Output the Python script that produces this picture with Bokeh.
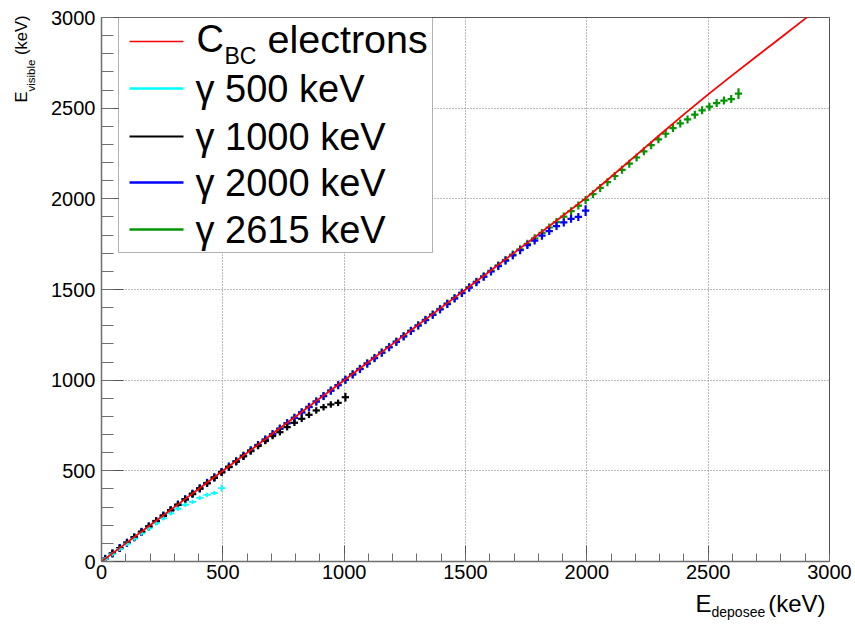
import numpy as np
from bokeh.plotting import figure
from bokeh.models import Range1d, SingleIntervalTicker, Label, BoxAnnotation, ColumnDataSource, Title
from bokeh.embed import file_html
from bokeh.resources import INLINE

# ---------------- data ----------------
cbc_x = [0, 100, 200, 300, 400, 500, 600, 700, 800, 900, 1000, 1100, 1200, 1300, 1400, 1500,
         1600, 1700, 1800, 1900, 2000, 2100, 2200, 2300, 2400, 2500, 2600, 2700, 2800, 2900, 3000]
cbc_y = [0, 100, 200, 300, 400, 500, 600, 700, 800, 900, 1000, 1100, 1200, 1300, 1400, 1500,
         1601, 1702, 1803, 1905, 2008, 2122, 2237, 2352, 2466, 2576, 2682, 2786, 2890, 2994, 3098]

BIN_WIDTH = 30  # keV, histogram binning of the gamma curves

g500_y = [13, 41, 70, 98, 126, 155, 183, 211, 238, 265, 291, 313, 329, 351, 367, 377, 405]

g1000_y = [14, 44, 73, 103, 133, 163, 193, 222, 252, 282,
           312, 342, 372, 402, 431, 461, 491, 520, 550, 579,
           608, 637, 665, 692, 713, 741, 765, 787, 809, 833,
           851, 866, 875, 906]

g2000_y = [14, 44, 74, 104, 133, 163, 193, 223, 253, 283,
           313, 343, 373, 403, 433, 463, 493, 522, 552, 582,
           612, 642, 672, 702, 732, 762, 792, 822, 852, 882,
           912, 942, 972, 1002, 1031, 1061, 1091, 1121, 1151, 1181,
           1211, 1241, 1271, 1301, 1331, 1360, 1390, 1420, 1450, 1480,
           1510, 1540, 1570, 1599, 1629, 1659, 1688, 1717, 1745, 1770,
           1797, 1822, 1850, 1870, 1890, 1900, 1935]

g2615_y = [15, 45, 74, 104, 134, 164, 194, 224, 254, 284,
           314, 344, 374, 404, 434, 464, 494, 524, 554, 584,
           613, 643, 673, 703, 733, 763, 793, 823, 853, 883,
           913, 943, 973, 1003, 1033, 1063, 1093, 1123, 1153, 1183,
           1213, 1243, 1273, 1303, 1333, 1363, 1393, 1423, 1453, 1483,
           1513, 1543, 1573, 1603, 1633, 1663, 1693, 1722, 1752, 1782,
           1812, 1842, 1872, 1902, 1932, 1963, 1994, 2026, 2060, 2092,
           2126, 2160, 2194, 2228, 2262, 2296, 2328, 2359, 2390, 2416,
           2438, 2464, 2488, 2508, 2528, 2542, 2550, 2580]

# vertical errors (keV): typical and last (photopeak) bin
g500_err, g500_last = 12, 20
g1000_err, g1000_last = 18, 24
g2000_err, g2000_last = 22, 30
g2615_err, g2615_last = 22, 30

legend_labels = ["electrons", "\u03b3 500 keV", "\u03b3 1000 keV", "\u03b3 2000 keV", "\u03b3 2615 keV"]

RED = "#ff0000"
CYAN = "#00ffff"
BLACK = "#000000"
BLUE = "#0000ff"
GREEN = "#009600"
FONT = "Liberation Sans"

# ---------------- figure ----------------
W, H = 855, 624
L, R, T, B = 101, 26, 17, 63
p = figure(width=W, height=H, x_range=Range1d(0, 3000), y_range=Range1d(0, 3000),
           output_backend="svg", toolbar_location=None,
           min_border_left=L, min_border_right=R, min_border_top=T, min_border_bottom=B)
p.background_fill_color = "white"
p.border_fill_color = "white"
p.outline_line_color = "#555555"
p.outline_line_width = 1

FX0, FY0 = L, T           # canvas position of frame top-left
FW, FH = W - L - R, H - T - B


def dx(px):
    return (px - FX0) / FW * 3000.0


def dy(py):
    return (FY0 + FH - py) / FH * 3000.0


for ax in (p.xaxis[0], p.yaxis[0]):
    ax.ticker = SingleIntervalTicker(interval=500, num_minor_ticks=5)
    ax.axis_line_color = "#6e6e6e"
    ax.axis_line_width = 1.5
    ax.major_tick_line_color = "#555555"
    ax.minor_tick_line_color = "#6e6e6e"
    ax.major_tick_out = 0
    ax.minor_tick_out = 0
    ax.major_label_text_font = FONT
    ax.major_label_text_font_size = "20px"
    ax.major_label_text_color = "black"
    ax.axis_label = None

p.xaxis[0].major_tick_in = 16
p.xaxis[0].minor_tick_in = 8
p.xaxis[0].major_label_standoff = 3
p.yaxis[0].major_tick_in = 22
p.yaxis[0].minor_tick_in = 12
p.yaxis[0].major_label_standoff = 6

for g in (p.xgrid[0], p.ygrid[0]):
    g.grid_line_color = "#777777"
    g.grid_line_dash = "1 2"
    g.grid_line_width = 1


def add_series(yvals, color, err, last_err, lw):
    y = np.array(yvals, dtype=float)
    x = BIN_WIDTH / 2.0 + BIN_WIDTH * np.arange(len(y))
    e = np.full(len(y), float(err))
    e[-1] = last_err
    src = ColumnDataSource(dict(x=x, y=y, xl=x - BIN_WIDTH / 2.0, xr=x + BIN_WIDTH / 2.0,
                                yl=y - e, yh=y + e))
    p.segment(x0="xl", y0="y", x1="xr", y1="y", source=src, line_color=color, line_width=lw)
    p.segment(x0="x", y0="yl", x1="x", y1="yh", source=src, line_color=color, line_width=lw)


add_series(g2615_y, GREEN, g2615_err, g2615_last, 2.2)
add_series(g2000_y, BLUE, g2000_err, g2000_last, 2.2)
add_series(g1000_y, BLACK, g1000_err, g1000_last, 2.2)
add_series(g500_y, CYAN, g500_err, g500_last, 1.8)

p.line(cbc_x, cbc_y, line_color=RED, line_width=1.8)

# ---------------- legend (drawn by hand for the subscript) ----------------
p.add_layout(BoxAnnotation(left=dx(118), right=dx(432), top=dy(17), bottom=dy(252),
                           fill_color="white", fill_alpha=1.0, line_color="black", line_width=1,
                           level="annotation"))


def lab(text, px, py_mid, size):
    p.add_layout(Label(x=dx(px), y=dy(py_mid), text=text, text_font=FONT,
                       text_font_size=f"{size}px", text_baseline="middle",
                       text_align="left", text_color="black", level="overlay"))


row_y = [41, 88, 136, 182, 229]
colors = [RED, CYAN, BLACK, BLUE, GREEN]
widths = [1.5, 2.7, 2.2, 2.7, 2.7]
for ry, c, w in zip(row_y, colors, widths):
    p.segment(x0=dx(129), y0=dy(ry), x1=dx(183), y1=dy(ry), line_color=c, line_width=w,
              level="overlay")

lab("C", 196, 38.8, 38)
lab("BC", 224, 55.3, 23)
lab(legend_labels[0], 267, 38.3, 39.5)
for ry, t in zip(row_y[1:], legend_labels[1:]):
    lab(t, 195, ry + 0.5, 38)

# ---------------- axis titles (side-panel titles, pieces for the subscripts) ----------------
def fh(size):
    # vertical extent of a text box for the font (ascent + descent)
    return 1.117 * size


def side_title(text, side, size, align="left", offset=0.0, thickness=0.0, valign="middle"):
    standoff = thickness - 2.0 - fh(size)
    t = Title(text=text, align=align, vertical_align=valign, offset=offset, standoff=standoff,
              text_font=FONT, text_font_size=f"{size}px", text_font_style="normal",
              text_color="black")
    p.add_layout(t, side)


# x title: E_deposee (keV), right aligned at the end of the axis
side_title(" ", "below", 10, thickness=22.5)                     # spacer
side_title("E", "below", 24, align="left", offset=594, thickness=0.3)
side_title("(keV)", "below", 24, align="right", offset=4, thickness=0.3)
side_title("deposee", "below", 14, align="left", offset=610, thickness=13.6, valign="bottom")

# y title: E_visible (keV), right aligned at the top of the axis
side_title(" ", "left", 10, thickness=7.3)                        # spacer
side_title("visible", "left", 11.5, align="left", offset=470, thickness=21.4)
side_title("E", "left", 16.5, align="left", offset=459, thickness=0.3)
side_title("(keV)", "left", 16.5, align="right", offset=-2, thickness=0.3)

open("out.html", "w").write(file_html(p, INLINE))
